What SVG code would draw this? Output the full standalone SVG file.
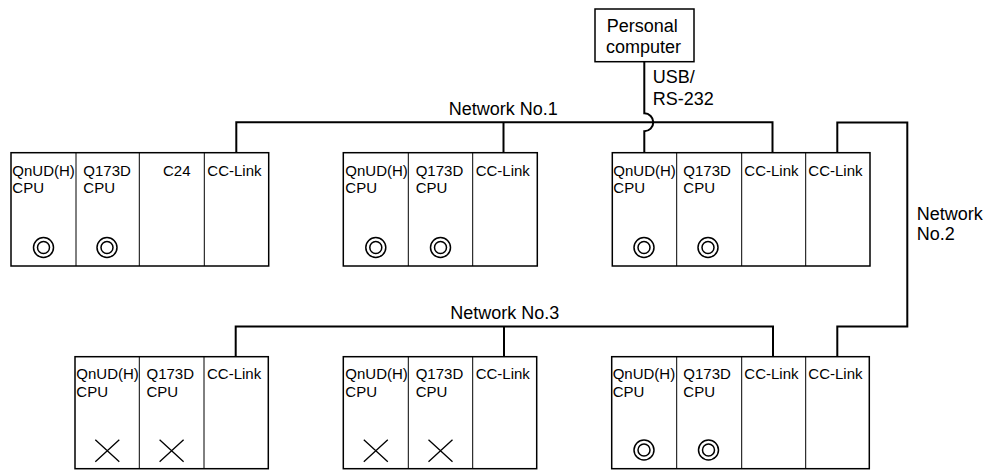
<svg xmlns="http://www.w3.org/2000/svg" width="992" height="470" viewBox="0 0 992 470">
<style>
  text { font-family: "Liberation Sans", Arial, sans-serif; fill: #000; }
  .m { font-size: 15px; }
  .l { font-size: 18px; }
  .rack { fill: #fff; stroke: #000; stroke-width: 1.5; }
  .div { stroke: #000; stroke-width: 1; }
  .wire { fill: none; stroke: #000; stroke-width: 2; }
  .box { fill: #fff; stroke: #000; stroke-width: 1.5; }
  .sym { fill: none; stroke: #000; stroke-width: 1.5; }
</style>
<defs>
  <g id="ok"><circle r="10" class="sym"/><circle r="6" class="sym"/></g>
  <g id="ng"><path d="M-12 -11 L12 11 M-12 11 L12 -11" class="sym" style="stroke-width:1.3"/></g>
</defs>
<rect width="992" height="470" fill="#fff"/>

<g id="connectors">
  <path class="wire" d="M236.3 152.7 V122.3 H772.5 V152.7"/>
  <path class="wire" d="M503.5 122.3 V152.7"/>
  <path class="wire" d="M644.3 61.7 V113.3 A9 9 0 0 1 644.3 131.3 V152.7"/>
  <path class="wire" d="M837.3 152.7 V122.5 H907.3 V326.5 H837.3 V356.7"/>
  <path class="wire" d="M235.7 356.7 V326.5 H773 V356.7"/>
  <path class="wire" d="M504 326.5 V356.7"/>
</g>

<g id="labels">
  <text class="l" x="503.3" y="115" text-anchor="middle">Network No.1</text>
  <text class="l" x="504.7" y="319.3" text-anchor="middle">Network No.3</text>
  <text class="l" x="916.7" y="220">Network</text>
  <text class="l" x="916.7" y="240">No.2</text>
  <text class="l" x="652.7" y="83.3">USB/</text>
  <text class="l" x="652.7" y="105">RS-232</text>
</g>

<g id="pc">
  <rect class="box" x="595" y="9" width="99" height="52.7"/>
  <text class="l" x="606.7" y="31.7">Personal</text>
  <text class="l" x="606" y="53.3">computer</text>
</g>

<g id="rack1">
  <rect class="rack" x="11" y="152.7" width="257.7" height="113.3"/>
  <path class="div" d="M76 152.7 V266 M139.3 152.7 V266 M204.3 152.7 V266"/>
  <text class="m" x="12.3" y="175.7">QnUD(H)</text>
  <text class="m" x="12.3" y="193">CPU</text>
  <text class="m" x="83.3" y="175.7">Q173D</text>
  <text class="m" x="83.3" y="193">CPU</text>
  <text class="m" x="163" y="175.7">C24</text>
  <text class="m" x="207.3" y="175.7">CC-Link</text>
  <use href="#ok" x="43.5" y="247.5"/>
  <use href="#ok" x="107" y="247.5"/>
</g>

<g id="rack2">
  <rect class="rack" x="343.3" y="152.7" width="194" height="113.3"/>
  <path class="div" d="M408.3 152.7 V266 M472.7 152.7 V266"/>
  <text class="m" x="345.3" y="175.7">QnUD(H)</text>
  <text class="m" x="345.3" y="193">CPU</text>
  <text class="m" x="415.7" y="175.7">Q173D</text>
  <text class="m" x="415.7" y="193">CPU</text>
  <text class="m" x="475.7" y="175.7">CC-Link</text>
  <use href="#ok" x="375.8" y="247.5"/>
  <use href="#ok" x="440.5" y="247.5"/>
</g>

<g id="rack3">
  <rect class="rack" x="612.3" y="152.7" width="257.7" height="113.3"/>
  <path class="div" d="M676.7 152.7 V266 M741.7 152.7 V266 M805.7 152.7 V266"/>
  <text class="m" x="613.3" y="175.7">QnUD(H)</text>
  <text class="m" x="613.3" y="193">CPU</text>
  <text class="m" x="683.3" y="175.7">Q173D</text>
  <text class="m" x="683.3" y="193">CPU</text>
  <text class="m" x="744.3" y="175.7">CC-Link</text>
  <text class="m" x="808.3" y="175.7">CC-Link</text>
  <use href="#ok" x="644" y="247.5"/>
  <use href="#ok" x="708" y="247.5"/>
</g>

<g id="rack4">
  <rect class="rack" x="75" y="356.7" width="193.3" height="112"/>
  <path class="div" d="M139.3 356.7 V468.7 M204 356.7 V468.7"/>
  <text class="m" x="76.3" y="379">QnUD(H)</text>
  <text class="m" x="76.3" y="396.5">CPU</text>
  <text class="m" x="146.5" y="379">Q173D</text>
  <text class="m" x="146.5" y="396.5">CPU</text>
  <text class="m" x="207" y="379">CC-Link</text>
  <use href="#ng" x="107.3" y="450.7"/>
  <use href="#ng" x="171.6" y="450.7"/>
</g>

<g id="rack5">
  <rect class="rack" x="343.3" y="356.7" width="193.4" height="112"/>
  <path class="div" d="M408.3 356.7 V468.7 M472.7 356.7 V468.7"/>
  <text class="m" x="345.3" y="379">QnUD(H)</text>
  <text class="m" x="345.3" y="396.5">CPU</text>
  <text class="m" x="415.7" y="379">Q173D</text>
  <text class="m" x="415.7" y="396.5">CPU</text>
  <text class="m" x="475.7" y="379">CC-Link</text>
  <use href="#ng" x="375.8" y="450.7"/>
  <use href="#ng" x="440.5" y="450.7"/>
</g>

<g id="rack6">
  <rect class="rack" x="611.7" y="356.7" width="257.6" height="112"/>
  <path class="div" d="M676.7 356.7 V468.7 M741.7 356.7 V468.7 M805.7 356.7 V468.7"/>
  <text class="m" x="612.7" y="379">QnUD(H)</text>
  <text class="m" x="612.7" y="396.5">CPU</text>
  <text class="m" x="683.3" y="379">Q173D</text>
  <text class="m" x="683.3" y="396.5">CPU</text>
  <text class="m" x="744.3" y="379">CC-Link</text>
  <text class="m" x="808.3" y="379">CC-Link</text>
  <use href="#ok" x="644" y="450"/>
  <use href="#ok" x="708.5" y="450"/>
</g>
</svg>
